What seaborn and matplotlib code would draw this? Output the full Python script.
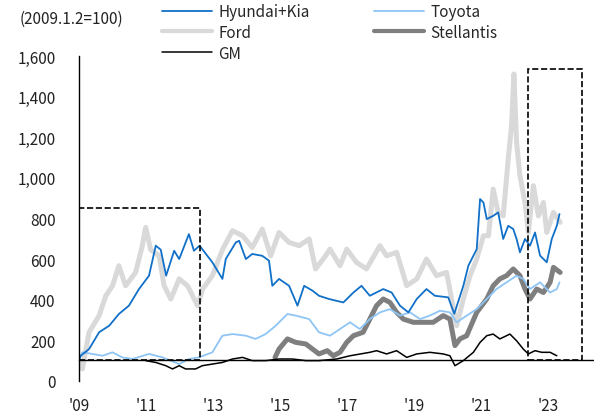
import matplotlib
matplotlib.use('Agg')
import matplotlib.pyplot as plt
import seaborn as sns
from matplotlib.patches import Rectangle

# values (2009.1.2 = 100), x in fractional years
hk_x = [2009.0, 2009.05, 2009.3, 2009.6, 2009.9, 2010.19, 2010.49, 2010.79, 2011.09, 2011.29, 2011.44,
        2011.6, 2011.84, 2011.99, 2012.28, 2012.43, 2012.6, 2012.83, 2012.98, 2013.28, 2013.38, 2013.68,
        2013.78, 2013.98, 2014.17, 2014.47, 2014.67, 2014.77, 2014.97, 2015.27, 2015.52, 2015.72, 2015.97,
        2016.16, 2016.46, 2016.89, 2017.19, 2017.43, 2017.68, 2018.08, 2018.33, 2018.58, 2018.83, 2019.08,
        2019.37, 2019.62, 2020.02, 2020.2, 2020.47, 2020.62, 2020.87, 2020.97, 2021.07, 2021.17, 2021.36,
        2021.51, 2021.66, 2021.81, 2021.96, 2022.06, 2022.16, 2022.31, 2022.46, 2022.61, 2022.76, 2022.96,
        2023.11, 2023.26, 2023.34]
hk_y = [100, 123, 156, 239, 271, 329, 370, 452, 518, 666, 646,
        518, 641, 600, 723, 641, 666, 616, 584, 502, 600, 682,
        690, 600, 625, 616, 592, 468, 502, 468, 370, 468, 444,
        419, 403, 386, 435, 468, 419, 452, 435, 370, 337, 403,
        452, 419, 411, 330, 468, 567, 649, 896, 879, 797, 813,
        830, 699, 764, 748, 699, 633, 699, 666, 731, 617, 584,
        699, 764, 822]

ty_x = [2009.0, 2009.1, 2009.4, 2009.7, 2010.0, 2010.29, 2010.59, 2011.09, 2011.49, 2011.99, 2012.28,
        2012.58, 2012.98, 2013.28, 2013.58, 2013.98, 2014.27, 2014.57, 2014.87, 2015.22, 2015.47, 2015.87,
        2016.16, 2016.49, 2016.79, 2017.09, 2017.38, 2017.68, 2017.98, 2018.28, 2018.58, 2018.88, 2019.18,
        2019.47, 2019.77, 2020.07, 2020.27, 2020.57, 2020.87, 2021.17, 2021.46, 2021.76, 2022.06, 2022.26,
        2022.46, 2022.76, 2023.06, 2023.26, 2023.34]
ty_y = [100, 140, 132, 123, 140, 115, 107, 132, 115, 82, 107,
        115, 140, 222, 230, 222, 206, 230, 271, 329, 321, 304,
        239, 222, 255, 288, 255, 304, 337, 353, 321, 337, 304,
        321, 345, 337, 288, 321, 353, 403, 452, 485, 518, 502,
        452, 485, 435, 452, 485]

fd_x = [2009.0, 2009.1, 2009.3, 2009.6, 2009.8, 2010.0, 2010.19, 2010.39, 2010.69, 2010.89, 2010.99,
        2011.14, 2011.39, 2011.54, 2011.74, 2011.99, 2012.24, 2012.39, 2012.54, 2012.69, 2012.98, 2013.28,
        2013.58, 2013.88, 2014.17, 2014.47, 2014.72, 2014.97, 2015.27, 2015.57, 2015.87, 2016.06, 2016.36,
        2016.49, 2016.79, 2016.99, 2017.28, 2017.58, 2017.98, 2018.18, 2018.48, 2018.78, 2019.08, 2019.37,
        2019.67, 2019.97, 2020.12, 2020.27, 2020.47, 2020.67, 2020.87, 2021.07, 2021.22, 2021.36, 2021.51,
        2021.66, 2021.81, 2021.91, 2021.98, 2022.06, 2022.16, 2022.31, 2022.41, 2022.56, 2022.71, 2022.86,
        2022.96, 2023.16, 2023.36]
fd_y = [100, 58, 239, 321, 419, 468, 567, 468, 534, 666, 756,
        646, 616, 468, 403, 502, 468, 419, 370, 452, 518, 646,
        740, 715, 657, 748, 616, 731, 682, 666, 699, 551, 616,
        649, 567, 649, 584, 551, 666, 616, 633, 469, 502, 600,
        518, 534, 403, 271, 403, 518, 600, 715, 715, 945, 830,
        813, 1093, 1258, 1513, 1175, 1011, 879, 731, 962, 813, 879,
        731, 830, 781]

st_x = [2014.85, 2014.97, 2015.22, 2015.47, 2015.77, 2015.97, 2016.16, 2016.41, 2016.59, 2016.79, 2016.99,
        2017.19, 2017.48, 2017.68, 2017.88, 2018.08, 2018.28, 2018.48, 2018.68, 2018.98, 2019.27, 2019.57,
        2019.87, 2020.07, 2020.22, 2020.37, 2020.57, 2020.87, 2021.17, 2021.36, 2021.56, 2021.76, 2021.96,
        2022.16, 2022.31, 2022.46, 2022.66, 2022.86, 2023.06, 2023.16, 2023.36]
st_y = [115, 156, 206, 189, 181, 156, 132, 148, 123, 140, 189,
        222, 239, 304, 370, 403, 386, 337, 304, 288, 288, 288,
        321, 304, 173, 206, 222, 337, 403, 468, 502, 518, 551,
        518, 452, 403, 452, 435, 485, 559, 534]

gm_x = [2010.99, 2011.29, 2011.59, 2011.79, 2011.99, 2012.18, 2012.48, 2012.68, 2012.98, 2013.28, 2013.58,
        2013.88, 2014.17, 2014.57, 2014.97, 2015.37, 2015.77, 2016.16, 2016.69, 2017.09, 2017.68, 2017.88,
        2018.18, 2018.48, 2018.78, 2019.08, 2019.47, 2019.87, 2020.07, 2020.22, 2020.47, 2020.77, 2020.97,
        2021.17, 2021.36, 2021.56, 2021.86, 2022.06, 2022.26, 2022.41, 2022.61, 2022.81, 2023.06, 2023.26]
gm_y = [99, 90, 74, 58, 74, 58, 58, 74, 82, 90, 107,
        115, 99, 99, 107, 107, 99, 99, 107, 123, 140, 148,
        132, 148, 115, 132, 140, 132, 123, 74, 99, 140, 189,
        222, 230, 206, 230, 197, 156, 132, 148, 140, 140, 123]

year_ticks = [2009, 2011, 2013, 2015, 2017, 2019, 2021, 2023]
year_labels = ["'09", "'11", "'13", "'15", "'17", "'19", "'21", "'23"]
y_ticks = [0, 200, 400, 600, 800, 1000, 1200, 1400, 1600]

sns.set_style('white')
plt.rcParams['font.family'] = ['Noto Sans CJK KR', 'DejaVu Sans']
plt.rcParams['font.size'] = 11

fig = plt.figure(figsize=(5.94, 4.14), dpi=100)
ax = fig.add_axes([79 / 594, 1 - 381.7 / 414, 515 / 594, 324.4 / 414])

sns.lineplot(x=fd_x, y=fd_y, ax=ax, color='#d9d9d9', lw=3.6, label='Ford')
sns.lineplot(x=st_x, y=st_y, ax=ax, color='#7f7f7f', lw=3.6, label='Stellantis')
sns.lineplot(x=ty_x, y=ty_y, ax=ax, color='#8ec5f5', lw=1.3, label='Toyota')
sns.lineplot(x=hk_x, y=hk_y, ax=ax, color='#1170c8', lw=1.3, label='Hyundai+Kia')
sns.lineplot(x=gm_x, y=gm_y, ax=ax, color='black', lw=1.1, label='GM')

# dashed highlight boxes
ax.add_patch(Rectangle((2009.0, 100), 3.61, 750, fill=False, ls='--', lw=1.2, ec='black', zorder=5))
ax.add_patch(Rectangle((2022.4, 100), 1.6, 1437, fill=False, ls='--', lw=1.2, ec='black', zorder=5))

ax.set_xlim(2009.0, 2024.37)
ax.set_ylim(0, 1600)
ax.set_xticks(year_ticks)
ax.set_xticklabels(year_labels)
ax.set_yticks(y_ticks)
ax.set_yticklabels([f'{v:,}' for v in y_ticks])
ax.set_xlabel('')
ax.set_ylabel('')

for s in ['top', 'right']:
    ax.spines[s].set_visible(False)
ax.spines['bottom'].set_position(('data', 100))
ax.spines['bottom'].set_color('black')
ax.spines['left'].set_color('black')
ax.spines['bottom'].set_linewidth(1.0)
ax.spines['left'].set_linewidth(1.0)
ax.tick_params(axis='x', direction='out', length=3.6, width=1.0, pad=23, colors='black', labelcolor='#222222')
ax.tick_params(axis='y', direction='out', length=5, width=1.0, pad=12, colors='black', labelcolor='#222222')

ax.get_legend().remove()
h, l = ax.get_legend_handles_labels()
order = ['Hyundai+Kia', 'Ford', 'GM', 'Toyota', 'Stellantis']
hd = dict(zip(l, h))
leg = fig.legend([hd[k] for k in order], order, loc='upper left', bbox_to_anchor=(162 / 594, 1 - 4 / 414),
                 ncol=2, frameon=False, handlelength=3.3, handletextpad=0.4, columnspacing=4.2,
                 labelspacing=0.25, borderaxespad=0, borderpad=0, fontsize=11)
for lh in leg.get_lines():
    if lh.get_linewidth() > 2:
        lh.set_linewidth(3.0)

fig.text(20 / 594, 1 - 19 / 414, '(2009.1.2=100)', va='center', ha='left', fontsize=11, color='#222222')

fig.savefig('out.png', dpi=100)
